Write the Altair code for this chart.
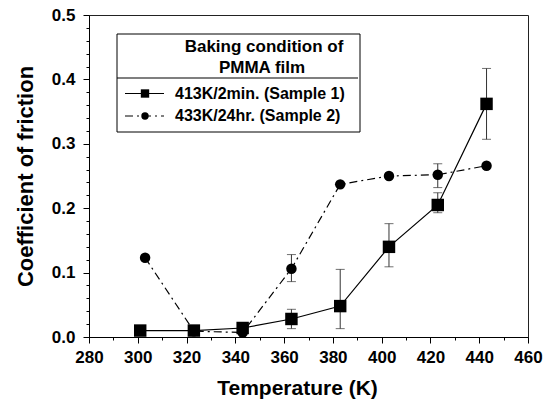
import altair as alt
import pandas as pd

# ---- data ----
temps1 = [301, 323, 343, 363, 383, 403, 423, 443]
cof1 = [0.010, 0.010, 0.014, 0.028, 0.048, 0.140, 0.205, 0.362]
temps2 = [303, 323, 343, 363, 383, 403, 423, 443]
cof2 = [0.123, 0.009, 0.007, 0.106, 0.237, 0.250, 0.252, 0.266]

err1_x = [363, 383, 403, 423, 443]
err1_lo = [0.013, 0.013, 0.109, 0.193, 0.307]
err1_hi = [0.043, 0.105, 0.176, 0.224, 0.417]
err2_x = [363, 423]
err2_lo = [0.086, 0.232]
err2_hi = [0.128, 0.269]

series_names = ["413K/2min. (Sample 1)", "433K/24hr. (Sample 2)"]
legend_title = ["Baking condition of", "PMMA film"]
x_major = list(range(280, 461, 20))
x_minor = list(range(290, 451, 20))
y_major = [0.0, 0.1, 0.2, 0.3, 0.4, 0.5]
y_minor = [0.02, 0.04, 0.06, 0.08, 0.12, 0.14, 0.16, 0.18, 0.22, 0.24, 0.26, 0.28,
           0.32, 0.34, 0.36, 0.38, 0.42, 0.44, 0.46, 0.48]

FONT = "Liberation Sans"
W, H = 439, 322

d1 = pd.DataFrame({"T": temps1, "mu": cof1})
d2 = pd.DataFrame({"T": temps2, "mu": cof2})
e1 = pd.DataFrame({"T": err1_x, "lo": err1_lo, "hi": err1_hi})
e2 = pd.DataFrame({"T": err2_x, "lo": err2_lo, "hi": err2_hi})

xscale = alt.Scale(domain=[280, 460], nice=False, zero=False)
yscale = alt.Scale(domain=[0, 0.5], nice=False)

xaxis = alt.Axis(
    values=x_major, orient="bottom", tickSize=6,
    labelOverlap=False, labelFlush=False, grid=False,
    labelFont=FONT, labelFontSize=17, labelFontWeight="bold", labelColor="black",
    labelPadding=6,
    title="Temperature (K)", titleFont=FONT, titleFontSize=21, titleFontWeight="bold",
    titleColor="black", titlePadding=12, titleX=208,
    domainColor="black", tickColor="black",
)
yaxis = alt.Axis(
    values=y_major, format=".1f", orient="left", tickSize=6,
    labelOverlap=False, labelFlush=False, grid=False,
    labelFont=FONT, labelFontSize=17, labelFontWeight="bold", labelColor="black",
    labelPadding=8,
    title="Coefficient of friction", titleFont=FONT, titleFontSize=22, titleFontWeight="bold",
    titleColor="black", titlePadding=14,
    domainColor="black", tickColor="black",
)
xaxis_minor = alt.Axis(values=x_minor, orient="bottom", tickSize=3, labels=False,
                       domain=False, grid=False, title=None, tickColor="black")
yaxis_minor = alt.Axis(values=y_minor, orient="left", tickSize=3, labels=False,
                       domain=False, grid=False, title=None, tickColor="black")

Xn = alt.X("T:Q", scale=xscale, axis=None)
Yn = alt.Y("mu:Q", scale=yscale, axis=None)

# axis carrier layers
axes_major = alt.Chart(d1).mark_point(opacity=0).encode(
    x=alt.X("T:Q", scale=xscale, axis=xaxis), y=alt.Y("mu:Q", scale=yscale, axis=yaxis))
axes_minor = alt.Chart(d1).mark_point(opacity=0).encode(
    x=alt.X("T:Q", scale=xscale, axis=xaxis_minor), y=alt.Y("mu:Q", scale=yscale, axis=yaxis_minor))

line1 = alt.Chart(d1).mark_line(color="black", strokeWidth=1.2).encode(x=Xn, y=Yn)
line2 = alt.Chart(d2).mark_line(color="black", strokeWidth=1.2, strokeDash=[8, 4, 2, 4]).encode(x=Xn, y=Yn)
pts1 = alt.Chart(d1).mark_point(shape="square", filled=True, color="black", size=155, opacity=1).encode(x=Xn, y=Yn)
pts2 = alt.Chart(d2).mark_point(shape="circle", filled=True, color="black", size=110, opacity=1).encode(x=Xn, y=Yn)


def errbars(df):
    rule = alt.Chart(df).mark_rule(color="#333", strokeWidth=1).encode(
        x=Xn, y=alt.Y("lo:Q", scale=yscale, axis=None), y2="hi:Q")
    cap_lo = alt.Chart(df).mark_tick(color="#333", orient="horizontal", size=9, thickness=1).encode(
        x=Xn, y=alt.Y("lo:Q", scale=yscale, axis=None))
    cap_hi = alt.Chart(df).mark_tick(color="#333", orient="horizontal", size=9, thickness=1).encode(
        x=Xn, y=alt.Y("hi:Q", scale=yscale, axis=None))
    return [rule, cap_lo, cap_hi]


# ---- legend box (drawn inside plot area) ----
lg = pd.DataFrame({"k": [0]})
box = alt.Chart(lg).mark_rect(fill="white", stroke="black", strokeWidth=1).encode(
    x=alt.value(28), x2=alt.value(271), y=alt.value(19), y2=alt.value(117))
sep = alt.Chart(lg).mark_rule(color="black", strokeWidth=1.2).encode(
    x=alt.value(28), x2=alt.value(269), y=alt.value(63))
ttl1 = alt.Chart(lg).mark_text(font=FONT, fontSize=17, fontWeight="bold", color="black",
                               align="center", baseline="middle", text=legend_title[0]).encode(
    x=alt.value(175), y=alt.value(32))
ttl2 = alt.Chart(lg).mark_text(font=FONT, fontSize=17, fontWeight="bold", color="black",
                               align="center", baseline="middle", text=legend_title[1]).encode(
    x=alt.value(173), y=alt.value(53))
leg_items = []
for i, (name, dash, shape, sz) in enumerate([
        (series_names[0], [1, 0], "square", 70),
        (series_names[1], [8, 4, 2, 4], "circle", 55)]):
    yy = 78.5 + i * 22.5
    leg_items.append(alt.Chart(lg).mark_rule(color="black", strokeWidth=1, strokeDash=dash).encode(
        x=alt.value(36), x2=alt.value(75), y=alt.value(yy)))
    leg_items.append(alt.Chart(lg).mark_point(shape=shape, filled=True, color="black", size=sz, opacity=1).encode(
        x=alt.value(56), y=alt.value(yy)))
    leg_items.append(alt.Chart(lg).mark_text(font=FONT, fontSize=16, fontWeight="bold", color="black",
                                             align="left", baseline="middle", text=name).encode(
        x=alt.value(86), y=alt.value(yy)))

chart = alt.layer(
    axes_minor, axes_major,
    *errbars(e1), *errbars(e2), line2, line1, pts2, pts1,
    box, sep, ttl1, ttl2, *leg_items
).resolve_axis(x="independent", y="independent").properties(
    width=W, height=H,
    autosize=alt.AutoSizeParams(type="none"),
    padding={"left": 89, "top": 15, "right": 26, "bottom": 72},
    background="white",
).configure_view(stroke="#222", strokeWidth=1)

chart.save("out.html", embed_options={"renderer": "svg", "actions": False})
